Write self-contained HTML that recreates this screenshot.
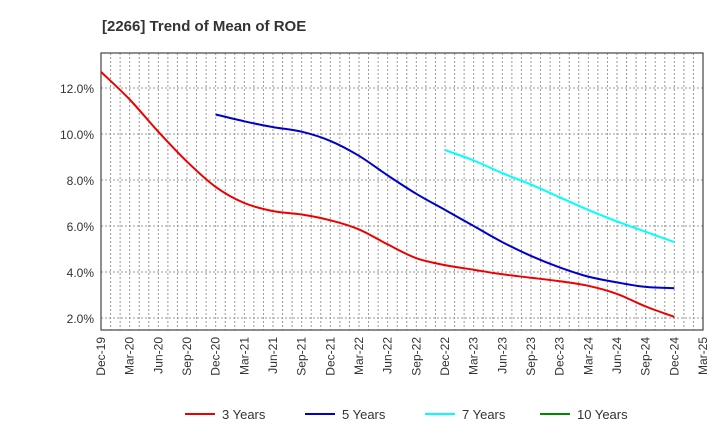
<!DOCTYPE html>
<html><head><meta charset="utf-8"><style>
body{margin:0;background:#fff;font-family:"Liberation Sans",sans-serif}
svg text{font-family:"Liberation Sans",sans-serif}
</style></head><body>
<svg id="c" width="720" height="440" xmlns="http://www.w3.org/2000/svg">
<text x="102" y="31" font-size="15" font-weight="bold" fill="#333">[2266]  Trend of Mean of ROE</text>
<g id="grid"></g><g id="axes"></g><g id="series"></g><g id="legend"></g>
</svg>
<script>
const xLabels=["Dec-19","Mar-20","Jun-20","Sep-20","Dec-20","Mar-21","Jun-21","Sep-21","Dec-21","Mar-22","Jun-22","Sep-22","Dec-22","Mar-23","Jun-23","Sep-23","Dec-23","Mar-24","Jun-24","Sep-24","Dec-24","Mar-25"];
const yTicks=[2,4,6,8,10,12];
const s3=[12.7,11.5,10.1,8.8,7.7,7.0,6.65,6.5,6.25,5.85,5.2,4.6,4.3,4.1,3.9,3.75,3.6,3.4,3.05,2.5,2.05];
const s5=[10.85,10.55,10.3,10.1,9.7,9.05,8.2,7.4,6.7,6.0,5.3,4.7,4.2,3.8,3.55,3.35,3.3];
const s5Start=4;
const s7=[9.3,8.85,8.3,7.8,7.25,6.7,6.2,5.75,5.3];
const s7Start=12;
const s10=[];
const NS="http://www.w3.org/2000/svg";
const L=101,R=703,T=53,B=330;
const xS=i=>L+(R-L)*i/21;
const yS=v=>318-(v-2)*23;
function mk(tag,attrs,parent){const e=document.createElementNS(NS,tag);for(const k in attrs)e.setAttribute(k,attrs[k]);parent.appendChild(e);return e;}
const g=document.getElementById('grid'),ax=document.getElementById('axes'),se=document.getElementById('series'),lg=document.getElementById('legend');
for(let m=1;m<63;m++){const x=L+(R-L)*m/63;const l=mk('line',{x1:x,x2:x,y1:T,y2:B,stroke:'#999','stroke-dasharray':'2,2','stroke-width':1},g);

}
yTicks.forEach(v=>{const y=yS(v);const l=mk('line',{x1:L,x2:R,y1:y,y2:y,stroke:'#999','stroke-dasharray':'2,2'},g);


const t=mk('text',{x:L-7,y:y+5,'text-anchor':'end','font-size':12,fill:'#333'},ax);t.textContent=v.toFixed(1)+'%';

});
const fr=mk('rect',{x:L,y:T,width:R-L,height:B-T,fill:'none',stroke:'#444','stroke-width':1.2},ax);


xLabels.forEach((s,i)=>{const x=xS(i);const t=mk('text',{transform:`translate(${x+4},${B+7}) rotate(-90)`,'text-anchor':'end','font-size':12,fill:'#333'},ax);t.textContent=s;

});
function line(data,start,color,name){if(!data.length)return;
const pts=data.map((v,i)=>[xS(start+i),yS(v)]);
let d='M'+pts[0][0].toFixed(1)+','+pts[0][1].toFixed(1);
for(let i=0;i<pts.length-1;i++){const p0=pts[Math.max(0,i-1)],p1=pts[i],p2=pts[i+1],p3=pts[Math.min(pts.length-1,i+2)];
const c1=[p1[0]+(p2[0]-p0[0])/6,p1[1]+(p2[1]-p0[1])/6],c2=[p2[0]-(p3[0]-p1[0])/6,p2[1]-(p3[1]-p1[1])/6];
d+='C'+c1.map(n=>n.toFixed(1)).join(',')+' '+c2.map(n=>n.toFixed(1)).join(',')+' '+p2[0].toFixed(1)+','+p2[1].toFixed(1);}
const p=mk('path',{d:d,fill:'none',stroke:color,'stroke-width':2,'stroke-linejoin':'round'},se);

}
line(s3,0,'#e00','line-3-years');line(s5,s5Start,'#00c','line-5-years');line(s7,s7Start,'#0ff','line-7-years');line(s10,0,'#080','line-10-years');
[["3 Years","#e00",185],["5 Years","#00c",305],["7 Years","#0ff",425],["10 Years","#080",540]].forEach(([n,c,x])=>{const gg=mk('g',{},lg);


mk('line',{x1:x,x2:x+30,y1:414,y2:414,stroke:c,'stroke-width':2},gg);const t=mk('text',{x:x+37,y:419,'font-size':13,fill:'#333'},gg);t.textContent=n;});
</script>
</body></html>
